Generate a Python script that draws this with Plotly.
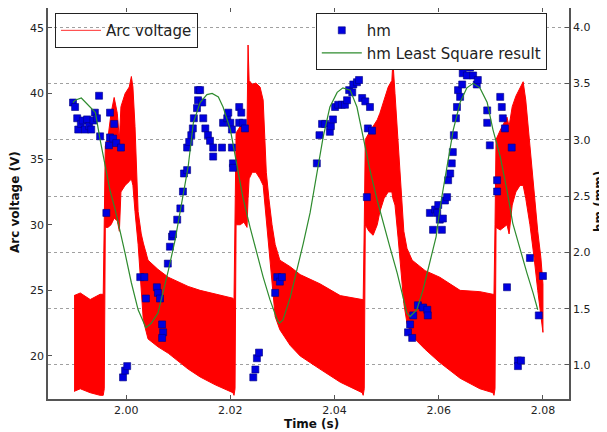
import plotly.graph_objects as go

# ---- Arc voltage envelope (upper / lower) ----
arc_t = [1.9900, 1.9912, 1.9931, 1.9950, 1.9956,
         1.9958, 1.9960, 1.9965, 1.9971, 1.9977, 1.9983, 1.9987, 1.9990, 1.9998, 2.0006,
         2.0010, 2.0013, 2.0017, 2.0023, 2.0029, 2.0033, 2.0042, 2.0061, 2.0081, 2.0119,
         2.0142, 2.0171, 2.0205, 2.0207,
         2.0209, 2.0211, 2.0219, 2.0226, 2.0232, 2.0234, 2.0236, 2.0242, 2.0249, 2.0257,
         2.0263, 2.0269, 2.0274, 2.0280, 2.0286, 2.0295, 2.0315, 2.0334, 2.0372, 2.0411,
         2.0453, 2.0455,
         2.0457, 2.0459, 2.0466, 2.0474, 2.0482, 2.0487, 2.0495, 2.0503, 2.0510, 2.0512,
         2.0516, 2.0522, 2.0528, 2.0533, 2.0539, 2.0549, 2.0574, 2.0602, 2.0641, 2.0679,
         2.0704, 2.0706,
         2.0708, 2.0710, 2.0718, 2.0725, 2.0731, 2.0735, 2.0741, 2.0748, 2.0756, 2.0762,
         2.0767, 2.0775, 2.0783, 2.0790, 2.0796, 2.0800]
arc_hi = [24.6, 24.8, 24.3, 24.7, 24.7,
          31.0, 36.0, 36.6, 38.5, 39.7, 38.5, 36.5, 39.0, 40.0, 40.5,
          41.3, 40.5, 37.5, 31.0, 29.3, 28.6, 27.3, 26.6, 26.0, 25.3,
          25.0, 24.7, 24.4, 24.3,
          30.0, 37.0, 37.5, 37.8, 37.5, 43.7, 41.0, 40.7, 40.8, 40.5,
          39.5, 34.0, 32.0, 30.0, 28.5, 27.3, 26.8, 26.2, 25.5, 24.6,
          24.3, 24.3,
          30.0, 36.5, 37.0, 37.5, 38.0, 38.5, 39.5, 40.5, 41.0, 42.5,
          40.0, 36.0, 32.0, 29.5, 28.2, 27.3, 26.5, 26.0, 25.0, 24.9,
          24.7, 24.7,
          30.0, 36.5, 37.2, 37.8, 38.2, 37.5, 39.0, 39.8, 40.5, 40.9,
          39.5, 36.0, 32.5, 29.5, 27.5, 25.5]
arc_lo = [17.3, 17.5, 17.2, 17.0, 17.0,
          17.5, 29.8, 29.8, 30.0, 30.5, 30.3, 29.5, 32.5, 33.0, 33.3,
          33.5, 33.0, 31.0, 28.5, 25.0, 22.7, 21.3, 20.7, 20.2, 19.0,
          18.4, 17.8, 17.2, 17.0,
          17.5, 30.0, 30.0, 30.2, 29.8, 32.0, 33.5, 34.0, 34.0, 33.5,
          33.0, 30.0, 28.0, 25.5, 23.0, 22.0, 20.8, 20.0, 19.0, 18.0,
          17.2, 17.0,
          17.5, 30.0, 29.5, 29.2, 30.0, 31.0, 32.0, 32.5, 32.5, 32.0,
          31.5, 29.0, 26.5, 24.0, 22.5, 21.5, 20.5, 19.5, 18.3, 17.5,
          17.2, 17.0,
          17.5, 29.8, 29.6, 29.8, 30.0, 29.3, 31.5, 32.5, 33.0, 33.0,
          32.0, 30.0, 27.5, 25.0, 23.0, 21.8]

# ---- hm measurements (mm) ----
hm_t = [1.9898, 1.9902, 1.9906, 1.9908, 1.9913, 1.9917, 1.9921, 1.9925, 1.9929, 1.9933,
        1.9937, 1.9940, 1.9944, 1.9948, 1.9950, 1.9962, 1.9969, 1.9969, 1.9967, 1.9975,
        1.9977, 1.9981, 1.9990, 1.9994, 1.9998, 2.0002, 2.0027, 2.0035, 2.0038, 2.0059,
        2.0061, 2.0065, 2.0069, 2.0071, 2.0069, 2.0080, 2.0084, 2.0088, 2.0090, 2.0098,
        2.0104, 2.0109, 2.0111, 2.0117, 2.0117, 2.0121, 2.0125, 2.0128, 2.0130, 2.0136,
        2.0138, 2.0138, 2.0142, 2.0146, 2.0148, 2.0152, 2.0157, 2.0161, 2.0167, 2.0167,
        2.0184, 2.0186, 2.0194, 2.0196, 2.0200, 2.0203, 2.0203, 2.0205, 2.0205, 2.0217,
        2.0221, 2.0217, 2.0224, 2.0228,
        2.0244, 2.0248, 2.0251, 2.0255, 2.0286, 2.0290, 2.0295, 2.0299,
        2.0366, 2.0371, 2.0376, 2.0382, 2.0391, 2.0393, 2.0397, 2.0401, 2.0407, 2.0414,
        2.0420, 2.0424, 2.0428, 2.0434, 2.0436, 2.0443, 2.0447, 2.0453, 2.0459, 2.0468,
        2.0464, 2.0472, 2.0462,
        2.0541, 2.0545, 2.0549, 2.0551, 2.0560, 2.0570, 2.0578, 2.0579,
        2.0583, 2.0589, 2.0593, 2.0597, 2.0599, 2.0602, 2.0606, 2.0608, 2.0612, 2.0616,
        2.0618, 2.0622, 2.0625, 2.0627, 2.0629, 2.0633, 2.0635, 2.0637, 2.0641, 2.0645,
        2.0646, 2.0654, 2.0660, 2.0666, 2.0673, 2.0675, 2.0693, 2.0693, 2.0698, 2.0712,
        2.0712, 2.0718, 2.0721, 2.0723, 2.0727, 2.0731, 2.0740, 2.0752, 2.0752, 2.0758,
        2.0775, 2.0792, 2.0800]
hm_v = [3.33, 3.29, 3.19, 3.09, 3.14, 3.17, 3.09, 3.18, 3.12, 3.09,
        3.17, 3.24, 3.19, 3.39, 3.03, 2.35, 3.24, 3.02, 2.95, 3.01,
        3.14, 2.97, 2.93, 0.89, 0.95, 0.99, 1.78, 1.78, 1.59, 1.69,
        1.64, 1.59, 1.36, 1.29, 1.24, 1.90, 2.05, 2.14, 2.16, 2.29,
        2.39, 2.54, 2.70, 2.73, 2.93, 2.98, 3.04, 3.10, 3.19, 3.28,
        3.35, 3.44, 3.44, 3.33, 3.19, 3.10, 3.04, 2.99, 2.93, 2.85,
        2.93, 3.15, 3.19, 3.24, 3.15, 3.09, 2.93, 2.79, 2.75, 3.29,
        3.24, 3.15, 3.15, 3.10,
        0.89, 0.96, 1.06, 1.11, 1.64, 1.78, 1.74, 1.78,
        2.79, 3.04, 3.14, 3.14, 3.07, 3.12, 3.18, 3.29, 3.31, 3.31,
        3.31, 3.35, 3.44, 3.42, 3.49, 3.51, 3.53, 3.37, 3.34, 3.29,
        3.10, 3.08, 2.49,
        1.29, 1.36, 1.24, 1.44, 1.53, 1.51, 1.49, 1.44,
        2.35, 2.20, 2.38, 2.35, 2.42, 2.29, 2.20, 2.30, 2.46, 2.49,
        2.64, 2.70, 2.79, 2.89, 3.04, 3.19, 3.29, 3.44, 3.38, 3.49,
        3.59, 3.57, 3.64, 3.57, 3.49, 3.53, 3.26, 3.15, 2.95, 2.64,
        2.54, 3.38, 3.29, 3.19, 3.10, 1.69, 2.93, 1.04, 0.99, 1.04,
        1.95, 1.44, 1.79]

# ---- hm least-square fit ----
ls_t = [1.9898, 1.9902, 1.9914, 1.9941, 1.9950, 1.9960, 1.9969, 1.9979, 1.9988, 1.9998,
        2.0010, 2.0023, 2.0038, 2.0048, 2.0061, 2.0071, 2.0081, 2.0094, 2.0106, 2.0119,
        2.0129, 2.0142, 2.0155, 2.0165, 2.0177, 2.0186, 2.0200, 2.0213, 2.0224, 2.0238,
        2.0251, 2.0263, 2.0276, 2.0290, 2.0294, 2.0301, 2.0315, 2.0328, 2.0340, 2.0353,
        2.0366, 2.0378, 2.0391, 2.0405, 2.0416, 2.0430, 2.0443, 2.0455, 2.0468, 2.0482,
        2.0493, 2.0506, 2.0520, 2.0531, 2.0539, 2.0545, 2.0558, 2.0570, 2.0583, 2.0595,
        2.0604, 2.0617, 2.0628, 2.0641, 2.0654, 2.0666, 2.0679, 2.0693, 2.0704, 2.0718,
        2.0731, 2.0742, 2.0756, 2.0769, 2.0781, 2.0790]
ls_v = [3.33, 3.35, 3.37, 3.24, 3.00, 2.76, 2.55, 2.38, 2.20, 1.99,
        1.73, 1.49, 1.33, 1.37, 1.46, 1.64, 1.84, 2.11, 2.44, 2.76,
        3.15, 3.33, 3.40, 3.41, 3.38, 3.29, 3.09, 2.76, 2.49, 2.22,
        1.99, 1.78, 1.58, 1.40, 1.37, 1.40, 1.60, 1.84, 2.08, 2.35,
        2.68, 3.02, 3.29, 3.42, 3.46, 3.44, 3.29, 3.02, 2.73, 2.46,
        2.26, 2.05, 1.82, 1.60, 1.46, 1.43, 1.49, 1.67, 1.91, 2.14,
        2.44, 2.79, 3.09, 3.33, 3.46, 3.50, 3.46, 3.33, 3.09, 2.85,
        2.55, 2.26, 2.02, 1.82, 1.64, 1.49]

x_ticks = [2.00, 2.02, 2.04, 2.06, 2.08]
v_ticks = [20, 25, 30, 35, 40, 45]
h_ticks = [1.0, 1.5, 2.0, 2.5, 3.0, 3.5, 4.0]

RED = "#ff0000"
fig = go.Figure()
# legend entry (thin line sample only)
fig.add_trace(go.Scatter(x=[None], y=[None], mode="lines", name="Arc voltage",
                         line=dict(color="#ff3030", width=1), legend="legend", yaxis="y"))
# filled band between the lower and upper envelope of the oscillating arc voltage
band_x = list(arc_t) + list(reversed(arc_t))
band_y = list(arc_hi) + list(reversed(arc_lo))
fig.add_trace(go.Scatter(x=band_x, y=band_y, mode="lines", fill="toself", fillcolor=RED,
                         line=dict(color=RED, width=1), showlegend=False, yaxis="y"))
fig.add_trace(go.Scatter(x=hm_t, y=hm_v, mode="markers", name="hm",
                         marker=dict(symbol="square", size=7, color="#0000e0",
                                     line=dict(color="#000080", width=0.6)),
                         legend="legend2", yaxis="y2"))
fig.add_trace(go.Scatter(x=ls_t, y=ls_v, mode="lines", name="hm Least Square result",
                         line=dict(color="#2e8b2e", width=1.2), legend="legend2", yaxis="y2"))

axis_line = "#555555"
title_font = dict(family="DejaVu Sans", size=12, color="#111111")
# the page body adds an 8px offset, so the figure is 599x424 inside the 607x432 window
fig.update_layout(
    width=599, height=424,
    margin=dict(l=40, r=38, t=0, b=33, autoexpand=False),
    paper_bgcolor="white", plot_bgcolor="white",
    font=dict(family="DejaVu Sans", size=11, color="#222222"),
    xaxis=dict(range=[1.985, 2.085], tickvals=x_ticks, tickformat=".2f",
               ticks="inside", ticklen=4, tickcolor=axis_line,
               showline=True, linecolor=axis_line, linewidth=1.5, mirror="ticks",
               showgrid=False, zeroline=False, automargin=False),
    yaxis=dict(range=[16.72, 46.52], tickvals=v_ticks,
               ticks="inside", ticklen=4, tickcolor=axis_line,
               showline=True, linecolor=axis_line, linewidth=1.5,
               showgrid=False, zeroline=False, automargin=False),
    yaxis2=dict(range=[0.698, 4.169], tickvals=h_ticks, tickformat=".1f",
                overlaying="y", side="right",
                ticks="inside", ticklen=4, tickcolor=axis_line,
                showline=True, linecolor=axis_line, linewidth=1.5,
                showgrid=True, gridcolor="#a0a0a0", griddash="dot", gridwidth=1,
                zeroline=False, automargin=False),
    legend=dict(x=0.0134, y=0.987, xanchor="left", yanchor="top",
                bordercolor="#222222", borderwidth=1, bgcolor="rgba(255,255,255,0)",
                itemwidth=40, font=dict(size=15)),
    legend2=dict(x=0.514, y=0.987, xanchor="left", yanchor="top",
                 bordercolor="#222222", borderwidth=1, bgcolor="white",
                 itemwidth=40, font=dict(size=15)),
    annotations=[
        dict(text="<b>Time (s)</b>", xref="paper", yref="paper", x=0.505, y=-0.063,
             xanchor="center", yanchor="middle", showarrow=False, font=title_font),
        dict(text="<b>Arc voltage (V)</b>", xref="paper", yref="paper", x=-0.0633, y=0.504,
             xanchor="center", yanchor="middle", textangle=-90, showarrow=False,
             font=title_font),
        dict(text="<b>hm (mm)</b>", xref="paper", yref="paper", x=1.0576, y=0.504,
             xanchor="center", yanchor="middle", textangle=-90, showarrow=False,
             font=title_font),
    ],
)

fig.write_html("out.html")
